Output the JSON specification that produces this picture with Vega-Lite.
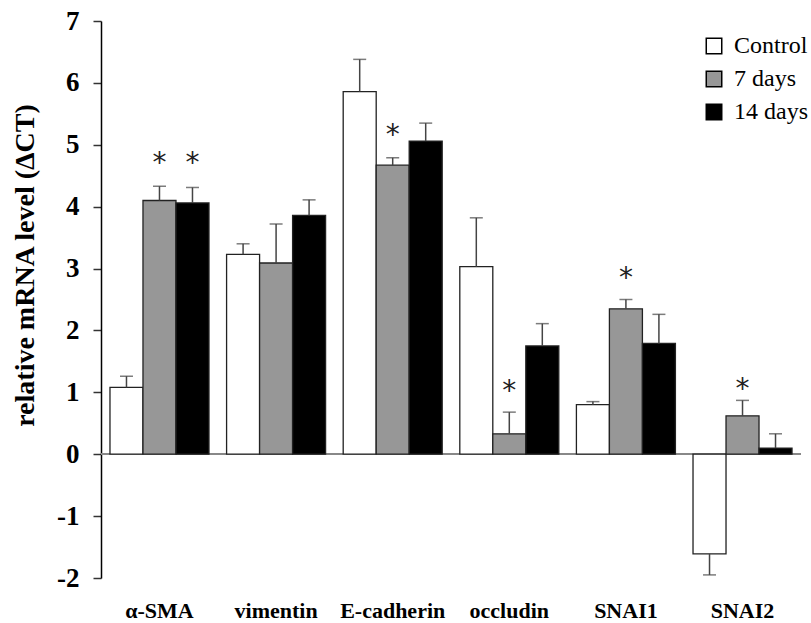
{
  "$schema": "https://vega.github.io/schema/vega-lite/v6.json",
  "autosize": "none",
  "width": 700,
  "height": 557,
  "padding": {"left": 101, "top": 21, "right": 10, "bottom": 45},
  "background": "white",
  "config": {"view": {"stroke": null}, "font": "Liberation Serif"},
  "data": {"values": [
    {"gene": "α-SMA", "group": "Control", "mean": 1.08, "errEnd": 1.26},
    {"gene": "α-SMA", "group": "7 days", "mean": 4.10, "errEnd": 4.33, "sigY": 4.80},
    {"gene": "α-SMA", "group": "14 days", "mean": 4.06, "errEnd": 4.31, "sigY": 4.80},
    {"gene": "vimentin", "group": "Control", "mean": 3.23, "errEnd": 3.40},
    {"gene": "vimentin", "group": "7 days", "mean": 3.09, "errEnd": 3.72},
    {"gene": "vimentin", "group": "14 days", "mean": 3.86, "errEnd": 4.11},
    {"gene": "E-cadherin", "group": "Control", "mean": 5.86, "errEnd": 6.38},
    {"gene": "E-cadherin", "group": "7 days", "mean": 4.67, "errEnd": 4.79, "sigY": 5.25},
    {"gene": "E-cadherin", "group": "14 days", "mean": 5.06, "errEnd": 5.35},
    {"gene": "occludin", "group": "Control", "mean": 3.03, "errEnd": 3.82},
    {"gene": "occludin", "group": "7 days", "mean": 0.33, "errEnd": 0.68, "sigY": 1.12},
    {"gene": "occludin", "group": "14 days", "mean": 1.75, "errEnd": 2.11},
    {"gene": "SNAI1", "group": "Control", "mean": 0.80, "errEnd": 0.85},
    {"gene": "SNAI1", "group": "7 days", "mean": 2.35, "errEnd": 2.50, "sigY": 2.94},
    {"gene": "SNAI1", "group": "14 days", "mean": 1.79, "errEnd": 2.26},
    {"gene": "SNAI2", "group": "Control", "mean": -1.61, "errEnd": -1.95},
    {"gene": "SNAI2", "group": "7 days", "mean": 0.62, "errEnd": 0.87, "sigY": 1.15},
    {"gene": "SNAI2", "group": "14 days", "mean": 0.10, "errEnd": 0.33}
  ]},
  "layer": [
    {
      "mark": {"type": "rule", "color": "#888888", "strokeWidth": 1.5},
      "encoding": {"y": {"datum": 0, "type": "quantitative", "scale": {"domain": [-2, 7], "nice": false, "zero": false}}}
    },
    {
      "mark": {"type": "bar", "stroke": "#222222", "strokeWidth": 1.3},
      "encoding": {
        "x": {"field": "gene", "type": "nominal", "sort": ["α-SMA", "vimentin", "E-cadherin", "occludin", "SNAI1", "SNAI2"],
              "scale": {"paddingInner": 0.151, "paddingOuter": 0.077},
              "axis": {"title": null, "domain": false, "ticks": false, "labelAngle": 0, "labelFont": "Liberation Serif", "labelFontWeight": "bold", "labelFontSize": 22, "labelColor": "black", "labelPadding": 22}},
        "xOffset": {"field": "group", "type": "nominal", "sort": ["Control", "7 days", "14 days"], "scale": {"paddingInner": 0, "paddingOuter": 0}},
        "y": {"field": "mean", "type": "quantitative",
              "scale": {"domain": [-2, 7], "nice": false, "zero": false},
              "axis": {"title": "relative mRNA level (ΔCT)", "values": [-2, -1, 0, 1, 2, 3, 4, 5, 6, 7], "grid": false,
                       "labelExpr": "toString(datum.value)",
                       "domainColor": "black", "domainWidth": 1.5, "tickColor": "#333333", "tickWidth": 1.5, "tickSize": 8,
                       "labelFont": "Liberation Serif", "labelFontWeight": "bold", "labelFontSize": 27, "labelColor": "black", "labelPadding": 14,
                       "titleFont": "Liberation Serif", "titleFontWeight": "bold", "titleFontSize": 28, "titleColor": "black",
                       "titleX": -62, "titleY": 244, "titleBaseline": "bottom", "titleAngle": -90, "titleAlign": "center"}},
        "color": {"field": "group", "type": "nominal", "sort": ["Control", "7 days", "14 days"],
                  "scale": {"domain": ["Control", "7 days", "14 days"], "range": ["#ffffff", "#979797", "#000000"]},
                  "legend": {"title": null, "orient": "none", "legendX": 601, "legendY": 13, "symbolType": "square", "symbolSize": 240,
                             "symbolStrokeColor": "black", "symbolStrokeWidth": 1.5, "symbolOpacity": 1, "labelFont": "Liberation Serif", "labelFontSize": 24,
                             "labelColor": "black", "labelOffset": 8, "rowPadding": 9,
                             "labelExpr": "datum.label == '7 days' ? '\u2007\u20077 days' : datum.label"}}
      }
    },
    {
      "mark": {"type": "rule", "color": "#444444", "strokeWidth": 1.5},
      "encoding": {
        "x": {"field": "gene", "type": "nominal", "sort": ["α-SMA", "vimentin", "E-cadherin", "occludin", "SNAI1", "SNAI2"]},
        "xOffset": {"field": "group", "type": "nominal", "sort": ["Control", "7 days", "14 days"]},
        "y": {"field": "mean", "type": "quantitative"},
        "y2": {"field": "errEnd"}
      }
    },
    {
      "mark": {"type": "tick", "color": "#444444", "thickness": 1.5, "size": 13, "orient": "horizontal"},
      "encoding": {
        "x": {"field": "gene", "type": "nominal", "sort": ["α-SMA", "vimentin", "E-cadherin", "occludin", "SNAI1", "SNAI2"]},
        "xOffset": {"field": "group", "type": "nominal", "sort": ["Control", "7 days", "14 days"]},
        "y": {"field": "errEnd", "type": "quantitative"}
      }
    },
    {
      "transform": [{"filter": "isValid(datum.sigY)"}],
      "mark": {"type": "text", "text": "*", "font": "DejaVu Sans", "fontSize": 28, "baseline": "middle", "align": "center", "color": "#222222", "dy": 7},
      "encoding": {
        "x": {"field": "gene", "type": "nominal", "sort": ["α-SMA", "vimentin", "E-cadherin", "occludin", "SNAI1", "SNAI2"]},
        "xOffset": {"field": "group", "type": "nominal", "sort": ["Control", "7 days", "14 days"]},
        "y": {"field": "sigY", "type": "quantitative"}
      }
    }
  ]
}
